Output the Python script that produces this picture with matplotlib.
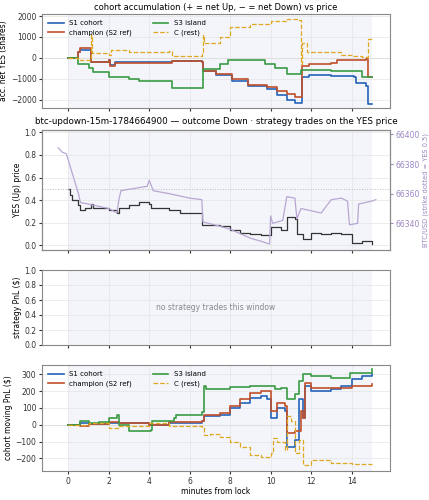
import matplotlib
matplotlib.use("Agg")
import matplotlib.pyplot as plt

# ---- data ----
s1_t = [0,0.5,0.6,1.1,2.0,2.05,2.3,5.1,6.6,6.65,7.3,8.1,8.9,9.8,10.3,10.8,11.2,11.55,11.9,13.0,14.1,14.2,14.7,14.8,15.0]
s1_v = [0,300,400,-200,-100,-350,-200,-150,-200,-650,-800,-1100,-1350,-1500,-1800,-2000,-2150,-900,-800,-850,-900,-1200,-1350,-2200,-2200]
ch_t = [0,0.5,0.6,1.1,2.0,2.05,2.3,5.1,6.6,6.65,7.3,8.1,8.9,9.8,10.3,10.8,11.2,11.55,11.9,13.0,13.3,14.7,14.8,15.0]
ch_v = [0,300,450,-200,-100,-400,-250,-150,-200,-650,-750,-1000,-1300,-1400,-1600,-1750,-1850,-400,-300,-250,-100,-50,-900,-900]
s3_t = [0,0.5,1.0,1.2,2.0,3.0,3.5,5.1,6.6,6.65,7.5,7.9,9.7,10.2,10.8,11.5,13.0,14.0,14.5,15.0]
s3_v = [0,-300,-500,-700,-900,-1000,-1100,-1450,-1450,-550,-300,-100,-300,-500,-750,-600,-650,-650,-900,-900]
c_t = [0,0.5,1.1,1.15,2.0,2.1,3.0,4.0,5.0,5.1,6.6,6.65,6.7,7.5,8.0,9.0,10.0,10.8,11.4,11.5,11.55,11.8,13.0,13.5,14.0,14.5,14.8,15.0]
c_v = [0,-100,1100,250,150,400,300,300,350,100,300,1100,700,1000,1500,1600,1750,1850,1800,-300,700,300,300,150,100,50,900,900]

yes_t = [0,0.1,0.2,0.5,0.6,0.8,1.1,1.2,2.0,2.4,2.5,3.0,3.5,4.0,4.1,5.0,5.5,6.6,6.62,7.0,7.5,8.0,8.5,9.0,9.5,10.0,10.02,10.5,10.8,11.2,11.3,11.6,12.0,12.5,13.0,13.5,14.0,14.5,15.0]
yes_v = [0.5,0.45,0.4,0.36,0.31,0.33,0.37,0.33,0.31,0.29,0.33,0.36,0.38,0.37,0.33,0.31,0.29,0.29,0.18,0.18,0.17,0.14,0.11,0.10,0.09,0.09,0.16,0.14,0.25,0.23,0.10,0.06,0.11,0.10,0.11,0.10,0.02,0.04,0.01]
btc_t = [-0.5,-0.3,-0.1,0.5,0.6,1.0,2.0,2.4,2.5,2.6,3.0,3.9,4.0,4.2,5.0,6.0,6.6,6.65,7.5,8.0,8.5,9.0,9.5,9.95,10.0,10.1,10.6,10.8,11.2,11.3,11.5,12.5,13.0,13.5,13.8,13.9,14.3,14.35,15.0,15.2]
btc_v = [66391,66388,66387,66360,66354,66353,66350,66347,66356,66362,66363,66365,66369,66362,66360,66357,66356,66341,66338,66336,66333,66330,66328,66326,66345,66340,66342,66358,66357,66343,66350,66347,66356,66357,66355,66339,66340,66353,66355,66356]

p1_t = [0,0.6,1.0,2.0,2.5,4.0,5.0,6.6,6.7,7.5,8.0,8.5,9.0,9.5,9.8,10.0,10.3,10.7,10.8,11.2,11.4,11.6,11.7,12.0,13.0,13.5,14.0,14.5,15.0]
p1_v = [0,10,5,10,10,0,10,20,50,60,100,130,160,170,150,40,100,80,-130,-90,150,40,230,200,210,230,270,290,300]
pc_t = [0,0.6,1.0,2.0,2.5,4.0,5.0,6.6,6.7,7.5,8.0,8.5,9.0,9.5,10.0,10.3,10.7,10.8,11.2,11.5,11.6,11.7,12.0,13.0,14.0,15.0]
pc_v = [0,-10,5,15,10,0,15,25,60,70,110,150,190,200,80,130,110,-50,-40,80,40,250,220,220,230,240]
p3_t = [0,0.6,1.0,1.5,2.0,2.4,2.5,3.0,4.1,4.12,5.2,5.3,6.6,6.7,6.8,8.0,9.0,10.0,10.2,10.5,10.8,11.2,11.4,11.6,12.0,13.0,13.8,13.9,15.0]
p3_v = [0,20,10,15,40,55,0,-40,-30,20,40,60,75,230,210,225,230,230,210,220,150,180,260,300,290,275,280,310,330]
pC_t = [0,1.0,2.0,2.5,4.0,5.0,6.6,6.7,7.0,7.5,8.0,8.5,9.0,9.5,10.0,10.1,10.3,10.7,10.8,11.0,11.2,11.4,11.6,12.0,13.0,14.0,15.0]
pC_v = [0,10,-20,-10,10,-5,-20,-60,-55,-70,-100,-130,-180,-190,-170,-80,-100,-150,50,20,-170,-90,-240,-210,-225,-235,-235]

labels = ["S1 cohort", "champion (S2 ref)", "S3 island", "C (rest)"]
colors = ["#2563b8", "#c0502a", "#3a9a44", "#e0a820"]

fig = plt.figure(figsize=(4.29, 5.0), dpi=100)
L, W = 0.098, 0.811
axs = [fig.add_axes([L, 0.784, W, 0.188]),
       fig.add_axes([L, 0.50, W, 0.24]),
       fig.add_axes([L, 0.31, W, 0.15]),
       fig.add_axes([L, 0.058, W, 0.212])]
for ax in axs:
    ax.set_xlim(-1.3, 15.9)
    ax.axvspan(0, 15, color="#eef1f8", alpha=0.7, lw=0, zorder=0)
    ax.grid(True, color="#e4e4e4", lw=0.5, zorder=0)
    ax.set_xticks(range(0, 15, 2))
    ax.tick_params(labelsize=5.5, colors="#333333", length=2.5, pad=1.5)
    for s in ax.spines.values():
        s.set_color("#888888")
    ax.set_facecolor("white")
for ax in axs[:3]:
    ax.set_xticklabels([])

def draw(ax, series):
    for (t, v), lab, c in zip(series, labels, colors):
        ls = "--" if lab.startswith("C ") else "-"
        ax.step(t, v, where="post", color=c, lw=1.2 if ls == "-" else 0.9, ls=ls, label=lab)
    ax.axhline(0, color="#cccccc", lw=0.6, zorder=1)
    ax.legend(ncol=2, fontsize=5, loc="upper left", frameon=False, handlelength=2.2, columnspacing=3)

ax = axs[0]
draw(ax, [(s1_t, s1_v), (ch_t, ch_v), (s3_t, s3_v), (c_t, c_v)])
ax.set_ylim(-2400, 2100)
ax.set_yticks([-2000, -1000, 0, 1000, 2000])
ax.set_ylabel("acc. net YES (shares)", fontsize=5.5, labelpad=2)
ax.set_title("cohort accumulation (+ = net Up, − = net Down) vs price", fontsize=6, pad=3)

ax = axs[1]
ax.step(yes_t, yes_v, where="post", color="#333333", lw=0.9)
ax.axhline(0.5, color="#bbbbbb", lw=0.7, ls=":")
ax.set_ylim(-0.04, 1.02)
ax.set_yticks([0, 0.2, 0.4, 0.6, 0.8, 1.0])
ax.set_ylabel("YES (Up) price", fontsize=5.5, labelpad=2)
ax.set_title("btc-updown-15m-1784664900 — outcome Down · strategy trades on the YES price", fontsize=6.3, pad=4)
ax2 = ax.twinx()
ax2.plot(btc_t, btc_v, color="#b9a6d3", lw=0.9)
ax2.set_ylim(66322, 66403)
ax2.set_yticks([66340, 66360, 66380, 66400])
ax2.tick_params(labelsize=5.5, colors="#9b86c2", length=2.5, pad=1.5)
ax2.set_ylabel("BTC/USD (strike dotted = YES 0.5)", fontsize=4.8, color="#9b86c2", labelpad=2)
for s in ax2.spines.values():
    s.set_color("#888888")

ax = axs[2]
ax.set_ylim(0, 1)
ax.set_yticks([0, 0.2, 0.4, 0.6, 0.8, 1.0])
ax.set_ylabel("strategy PnL ($)", fontsize=5.5, labelpad=2)
ax.text(7.3, 0.5, "no strategy trades this window", ha="center", va="center", fontsize=5.5, color="#888888")

ax = axs[3]
draw(ax, [(p1_t, p1_v), (pc_t, pc_v), (p3_t, p3_v), (pC_t, pC_v)])
ax.set_ylim(-275, 355)
ax.set_yticks([-200, -100, 0, 100, 200, 300])
ax.set_ylabel("cohort moving PnL ($)", fontsize=5.5, labelpad=2)
ax.set_xlabel("minutes from lock", fontsize=5.5, labelpad=1)

fig.savefig("out.png", dpi=100)
